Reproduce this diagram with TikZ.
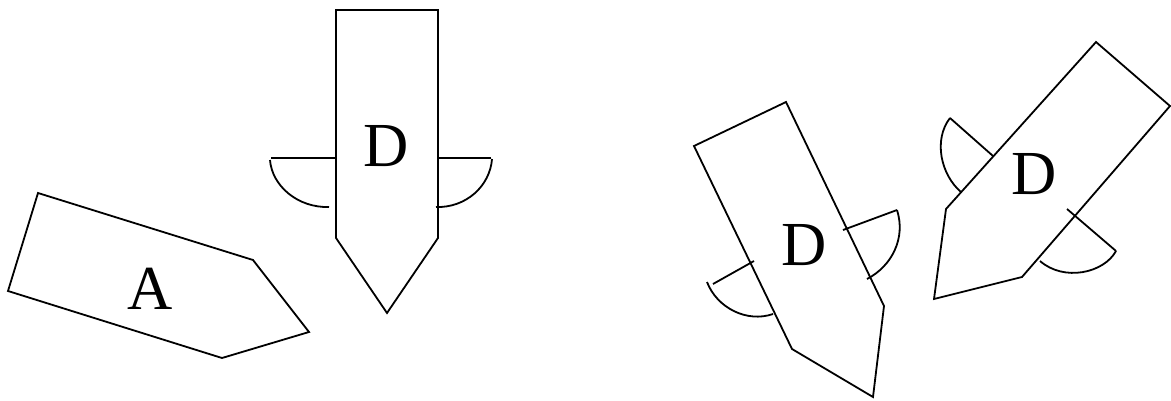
\documentclass[tikz,border=0pt]{standalone}
\usepackage{fontspec}
\setmainfont{Liberation Serif}
\tikzset{
  ink/.style={draw=black,line width=1.8*.75pt,line join=miter},
  lab/.style={inner sep=0pt,font=\fontsize{47}{47}\selectfont}
}
\begin{document}
\begin{tikzpicture}[x=.75pt,y=-.75pt]
\useasboundingbox (0,0) rectangle (1171,400);
% arrow A
\draw[ink] (38,193) -- (253,260) -- (309,332) -- (222,358) -- (8,291) -- cycle;
\node[lab] (la) at (150,289) {A};
% arrow D, upright
\draw[ink] (336,10) -- (438,10) -- (438,238) -- (387,313) -- (336,238) -- cycle;
\node[lab] (ld1) at (386,146) {D};
\draw[ink] (271,158) -- (336,158);
\draw[ink] (270,160) .. controls (272,186) and (298,208) .. (329,207);
\draw[ink] (438,158) -- (491,158);
\draw[ink] (492,159) .. controls (490,186) and (466,208) .. (436,207);
% arrow D, tilted right
\draw[ink] (694,146) -- (786,102) -- (884,306) -- (873,397) -- (792,349) -- cycle;
\node[lab] (ld2) at (804,245) {D};
\draw[ink] (713,284) -- (754,261);
\draw[ink] (707,282) .. controls (717,308) and (747,323) .. (773,314);
\draw[ink] (843,230) -- (897,210);
\draw[ink] (897,210) .. controls (906,238) and (892,266) .. (867,279);
% arrow D, tilted left
\draw[ink] (1096,42) -- (1170,106) -- (1022,277) -- (934,299) -- (946,209) -- cycle;
\node[lab] (ld3) at (1034,174) {D};
\draw[ink] (950,118) -- (993,156);
\draw[ink] (950,118) .. controls (933,140) and (941,175) .. (961,192);
\draw[ink] (1067,209) -- (1116,251);
\draw[ink] (1116,251) .. controls (1104,273) and (1064,282) .. (1040,261);
\end{tikzpicture}
\end{document}
